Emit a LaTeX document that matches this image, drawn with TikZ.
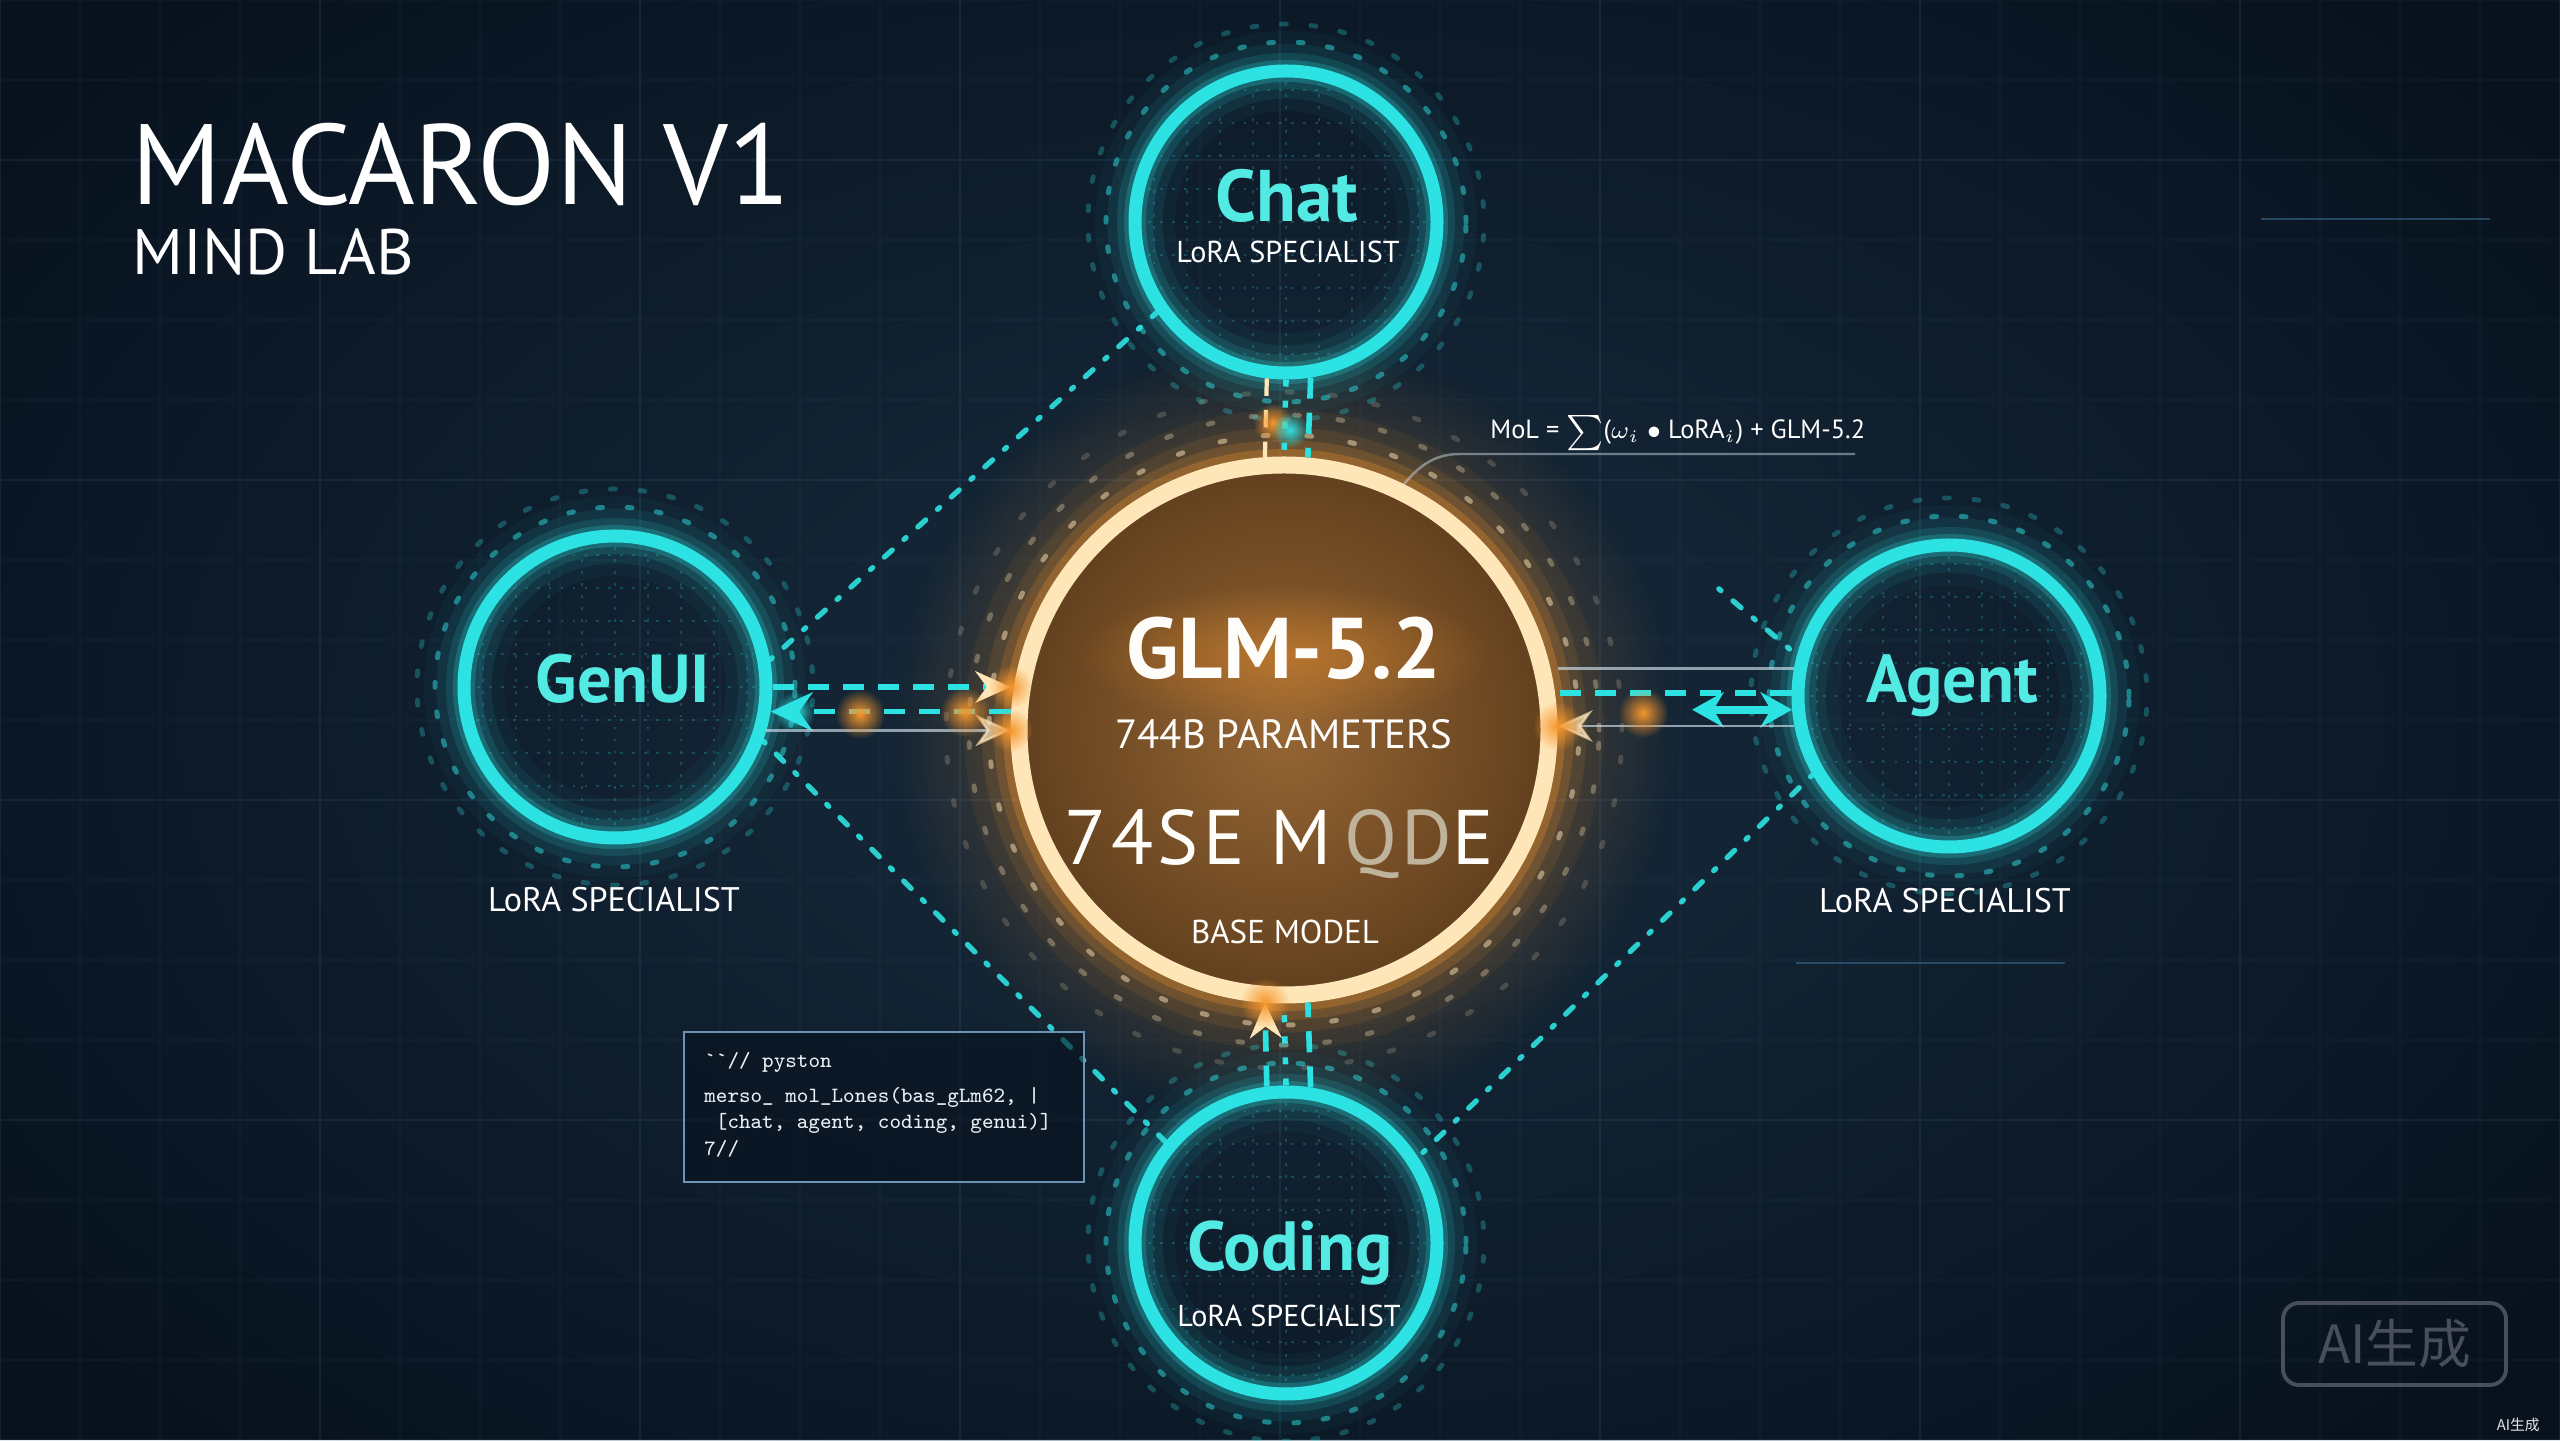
\documentclass[tikz,border=0pt]{standalone}
\usepackage{fontspec}
\setmainfont{PT Sans}
\newfontfamily\cjk{Noto Sans CJK SC}
\usepackage{tikz}
\usetikzlibrary{arrows.meta, positioning, calc, fadings, backgrounds}

\definecolor{NightNavy}{RGB}{8,18,30}
\definecolor{NavyGlow}{RGB}{24,44,62}
\definecolor{GridBlue}{RGB}{70,120,160}
\definecolor{RingCyan}{RGB}{45,226,226}
\definecolor{TextCyan}{RGB}{84,234,228}
\definecolor{HubCream}{RGB}{255,230,185}
\definecolor{HubGlow}{RGB}{245,150,45}
\definecolor{HubInner}{RGB}{150,102,52}
\definecolor{HubOuter}{RGB}{98,64,30}
\definecolor{WmGray}{RGB}{72,78,92}
\definecolor{CodeWhite}{RGB}{232,238,244}

\tikzfading[name=softglow, inner color=transparent!0, outer color=transparent!100]

\begin{document}
\begin{tikzpicture}[
	spec/.style={circle, draw=RingCyan, line width=0.13cm, minimum size=3.02cm, inner sep=0pt},
	hub/.style={circle, draw=HubCream, line width=0.17cm, minimum size=5.3cm, inner sep=0pt,
		inner color=HubInner, outer color=HubOuter},
	spectitle/.style={anchor=base, text=TextCyan, font=\bfseries\fontsize{19.3}{19}\selectfont},
	loralbl/.style={anchor=base, text=white, font=\fontsize{9.7}{9}\selectfont},
	hubtext/.style={anchor=base, text=white!92!HubCream},
	cyandash/.style={RingCyan, line width=1.6pt, dash pattern=on 6pt off 4pt},
	cyandot/.style={RingCyan, line width=1.6pt, dash pattern=on 2pt off 4pt},
	creamdash/.style={HubCream, line width=1.2pt, dash pattern=on 5pt off 4pt},
	thinline/.style={white!70!GridBlue, line width=0.7pt, opacity=0.7},
	linkdots/.style={RingCyan, line width=1.5pt, dash pattern=on 0.8pt off 4.5pt on 3pt off 4.5pt, line cap=round, opacity=0.9},
	hubtip/.style={-{Stealth[length=10pt, width=9pt, color=HubCream]}},
	glowO/.style={fill=HubGlow, path fading=softglow},
	glowC/.style={fill=RingCyan, path fading=softglow},
	halodots/.style={RingCyan, line width=1.4pt, dash pattern=on 1.4pt off 7pt, line cap=round},
	innergrid/.style={RingCyan, opacity=0.22, line width=0.6pt, dash pattern=on 0.8pt off 2.6pt},
]
	\useasboundingbox (0,0) rectangle (25.6,14.4);

	\node[hub] (base) at (12.84,7.10) {};
	\node[spec] (chat) at (12.86,12.18) {};
	\node[spec] (genui) at (6.15,7.53) {};
	\node[spec] (agent) at (19.49,7.44) {};
	\node[spec] (coding) at (12.86,1.97) {};

	\begin{scope}[on background layer]
		\fill[NightNavy] (0,0) rectangle (25.6,14.4);
		\fill[NavyGlow, path fading=softglow] (12.8,7.2) ellipse (16 and 10);
		\draw[GridBlue, opacity=0.06, step=0.8cm] (0,0) grid (25.6,14.4);
		\draw[GridBlue, opacity=0.1, step=3.2cm] (0,0) grid (25.6,14.4);
		\draw[GridBlue, opacity=0.5, line width=0.6pt] (22.61,12.21) -- (24.90,12.21);
		\draw[GridBlue, opacity=0.5, line width=0.6pt] (17.96,4.77) -- (20.65,4.77);
		\fill[HubGlow, path fading=softglow, opacity=0.6] (base) circle (3.9);
		\foreach \w/\o in {1.1/0.06, 0.75/0.1, 0.5/0.16, 0.32/0.28}
			\draw[HubGlow, line width=\w cm, opacity=\o] (base) circle (2.65);
		\foreach \r/\o in {2.95/0.5, 3.15/0.32, 3.38/0.18}
			\draw[HubCream, line width=1.4pt, dash pattern=on 1.4pt off 11pt, line cap=round, opacity=\o] (base) circle (\r);
		\foreach \n in {chat,genui,agent,coding}{
			\foreach \w/\o in {0.8/0.04, 0.55/0.08, 0.36/0.13, 0.22/0.22}
				\draw[RingCyan, line width=\w cm, opacity=\o] (\n) circle (1.51);
			\draw[halodots, opacity=0.5] (\n) circle (1.80);
			\draw[halodots, opacity=0.28, dash phase=4pt] (\n) circle (1.98);
			\begin{scope}
				\clip (\n) circle (1.42);
				\draw[innergrid, step=0.33cm, shift={(\n)}] (-1.5,-1.5) grid (1.5,1.5);
			\end{scope}
		}
	\end{scope}

	\draw[creamdash] (chat.263) -- (base.94);
	\draw[cyandot] (chat.270) -- (base.90);
	\draw[cyandash] (chat.279) -- (base.85);
	\draw[cyandash, hubtip] (coding.97) -- (base.266);
	\draw[cyandot] (coding.90) -- (base.270);
	\draw[cyandash] (coding.81) -- (base.275);

	\draw[cyandash, hubtip] (genui.0) -- (genui.0 -| base.west);
	\draw[cyandash, -{Stealth[length=12pt, width=11pt]}] (genui.-9 -| base.west) -- (genui.-9);
	\draw[thinline, hubtip] (genui.-16) -- (genui.-16 -| base.west);

	\draw[thinline] (agent.170) -- (agent.170 -| base.east);
	\draw[cyandash] (agent.179) -- (agent.179 -| base.east);
	\coordinate (agentsplit) at ($(agent.185)+(-1.0,0)$);
	\draw[RingCyan, line width=2.2pt, {Stealth[length=9pt, width=10pt]}-{Stealth[length=9pt, width=10pt]}] (agentsplit) -- (agent.185);
	\draw[thinline, hubtip] (agent.191) -- (agent.191 -| base.east);

	\draw[linkdots] (genui.10) -- (chat.215);
	\draw[linkdots] (genui.-20) -- (coding.140);
	\draw[linkdots] (agent.210) -- (coding.33);
	\coordinate (chatfade) at ($(chat.320)!0.8!(agent.165)$);
	\draw[linkdots] (chatfade) -- (agent.165);

	\fill[glowO] (genui.0 -| base.west) circle (0.22);
	\fill[glowO] (genui.-16 -| base.west) circle (0.22);
	\fill[glowO] (8.60,7.26) circle (0.25);
	\fill[glowO] (9.65,7.28) circle (0.25);
	\fill[glowC] (7.95,7.28) circle (0.2);
	\fill[glowO] (16.43,7.27) circle (0.25);
	\fill[glowO] (agent.191 -| base.east) circle (0.25);
	\fill[glowO] (12.73,10.17) circle (0.2);
	\fill[glowC] (12.90,10.10) circle (0.18);
	\fill[glowO] (base.266) circle (0.25);

	\node[spectitle, font=\bfseries\fontsize{20.8}{20}\selectfont] (chatname) at (12.87,12.18) {Chat};
	\node[loralbl, font=\fontsize{8.6}{8}\selectfont] (chatrole) at (12.88,11.77) {LoRA SPECIALIST};
	\node[spectitle] (genuiname) at (6.23,7.37) {GenUI};
	\node[loralbl] (genuirole) at (6.14,5.28) {LoRA SPECIALIST};
	\node[spectitle] (agentname) at (19.52,7.37) {Agent};
	\node[loralbl] (agentrole) at (19.45,5.27) {LoRA SPECIALIST};
	\node[spectitle, font=\bfseries\fontsize{19.8}{19}\selectfont] (codingname) at (12.90,1.70) {Coding};
	\node[loralbl, font=\fontsize{8.6}{8}\selectfont] (codingrole) at (12.89,1.14) {LoRA SPECIALIST};

	\fill[HubGlow, path fading=softglow, opacity=0.45] (12.84,7.85) ellipse (2.1 and 0.7);
	\node[hubtext, font=\bfseries\fontsize{24.5}{24}\selectfont] (glm) at (12.84,7.61) {GLM-5.2};
	\node[hubtext, font=\fontsize{11.6}{12}\selectfont] (params) at (12.84,6.91) {744B PARAMETERS};
	\node[hubtext, font=\fontsize{22}{22}\selectfont\addfontfeatures{LetterSpace=6}] (glitch) at (12.79,5.75) {74SE M\,\textcolor{HubCream!50!gray}{QD}E};
	\node[hubtext, font=\fontsize{9.4}{9}\selectfont] (basemodel) at (12.85,4.96) {BASE MODEL};

	\node[anchor=base west, inner sep=0pt, text=white, font=\fontsize{32.5}{32}\selectfont] (title) at (1.31,12.35) {MACARON V1};
	\node[anchor=base west, inner sep=0pt, text=white, font=\fontsize{18.3}{18}\selectfont] (lab) at (1.32,11.65) {MIND LAB};

	\node[anchor=base west, text=white, font=\fontsize{7.5}{8}\selectfont] (mol) at (14.78,10.01) {MoL = $\sum$($\omega_i$ $\bullet$ LoRA$_i$) + GLM-5.2};
	\coordinate (molstart) at (14.6,9.86);
	\coordinate (molend) at (18.55,9.86);
	\draw[thinline, opacity=0.5] (base.64) to[out=50, in=180] (molstart) -- (molend);

	\node[draw=GridBlue!80!white, line width=0.6pt, fill=NightNavy, fill opacity=0.6, minimum width=4.0cm, minimum height=1.5cm] (code) at (8.84,3.33) {};
	\node[anchor=north west, align=left, text=CodeWhite, font=\ttfamily\fontsize{6.2}{7.6}\selectfont] (codetext) at ([xshift=0.09cm, yshift=-0.09cm]code.north west) {\textasciigrave\textasciigrave// pyston\\[2.3pt]
		merso\_ mol\_Lones(bas\_gLm62, |\\
		\ [chat, agent, coding, genui)]\\
		7//};

	\node[draw=WmGray, rounded corners=0.16cm, line width=1.1pt, minimum width=2.23cm, minimum height=0.82cm, text=WmGray, font=\cjk\fontsize{15}{15}\selectfont] (aibadge) at (23.945,0.96) {AI生成};
	\node[anchor=east, text=white!80!gray, font=\cjk\fontsize{4.2}{4.2}\selectfont] (aimark) at (25.52,0.15) {AI生成};
\end{tikzpicture}
\end{document}
